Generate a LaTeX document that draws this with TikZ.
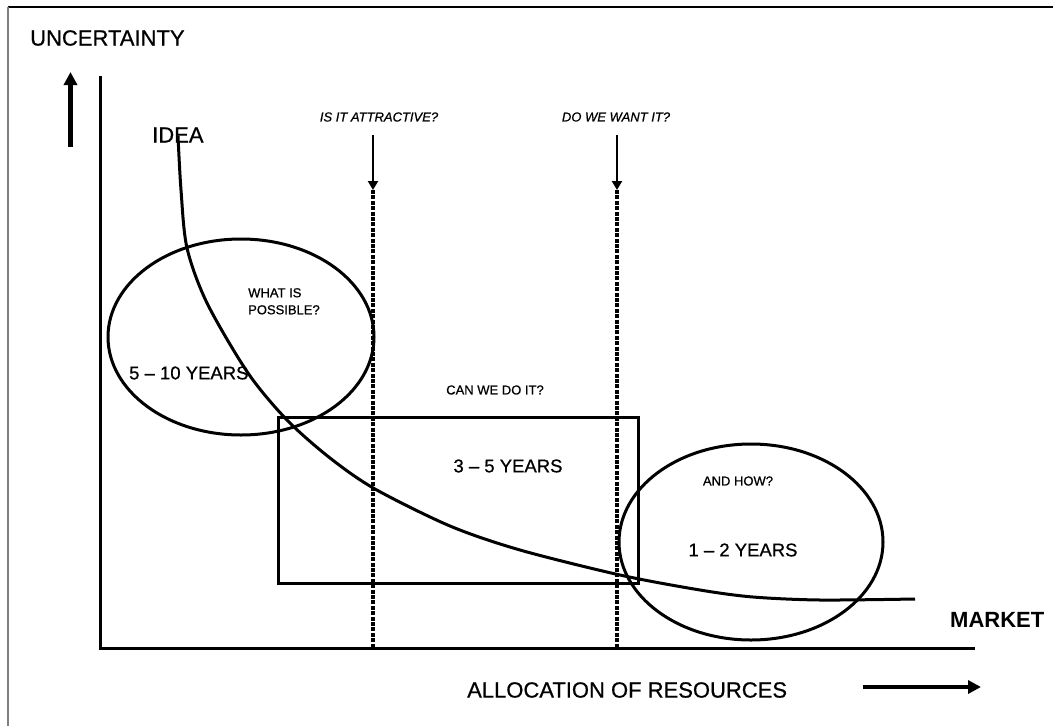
\documentclass[tikz,border=0pt]{standalone}
\usepackage{fontspec}
\setmainfont{Liberation Sans}
\newfontfamily\labelfont{Liberation Sans}[FakeBold=0.7]
\usetikzlibrary{arrows.meta,shapes.geometric}
\begin{document}
\begin{tikzpicture}[x=1pt,y=-1pt,
  axis/.style={line width=3pt},
  outline/.style={line width=3pt},
  bigarrow/.style={line width=4.4pt, -{Triangle[length=13pt,width=13pt]}},
  gatearrow/.style={line width=2.8pt, -{Triangle[length=9pt,width=10pt]}},
  gateline/.style={line width=3.2pt, dash pattern=on 4pt off 1.4pt},
  biglabel/.style={inner sep=0pt, font=\labelfont\fontsize{22}{26}\selectfont},
  midlabel/.style={inner sep=0pt, font=\labelfont\fontsize{18.5}{22}\selectfont},
  smalllabel/.style={inner sep=0pt, font=\labelfont\fontsize{13}{17}\selectfont},
  question/.style={inner sep=0pt, font=\labelfont\fontsize{13}{16}\selectfont\itshape},
]
\useasboundingbox (0,0) rectangle (1053,726);

% page frame (top and left edges)
\coordinate (frameTL) at (8,7);
\coordinate (frameTR) at (1053,7);
\coordinate (frameBL) at (8,726);
\draw[line width=2.4pt] (frameTL) -- (frameTR);
\draw[gray, line width=1.8pt] (frameTL) -- (frameBL);

% axes
\coordinate (ytop) at (100,76);
\coordinate (origin) at (100,648);
\coordinate (xend) at (975,648);
\draw[axis] (ytop) -- (origin) -- (xend);

% direction arrows
\coordinate (upfoot) at (70.5,147);
\coordinate (uptip) at (70.5,72);
\draw[bigarrow] (upfoot) -- (uptip);
\coordinate (rightfoot) at (863,687);
\coordinate (righttip) at (981,687);
\draw[bigarrow] (rightfoot) -- (righttip);

% axis labels
\node[biglabel, anchor=west] (uncertainty) at (30,38) {UNCERTAINTY};
\node[biglabel, anchor=west] (idea) at (152,135) {IDEA};
\node[biglabel, anchor=west, font=\fontsize{22}{26}\selectfont\bfseries] (market) at (950,620) {MARKET};
\node[biglabel, anchor=west] (allocation) at (467,690) {ALLOCATION OF RESOURCES};

% decision gates
\node[question] (attractive) at (379,117) {IS IT ATTRACTIVE?};
\node[question] (wantit) at (616,117) {DO WE WANT IT?};
\coordinate (gateAtop) at (373,135);
\coordinate (gateAmid) at (373,190);
\coordinate (gateAbot) at (373,648);
\coordinate (gateBtop) at (617,135);
\coordinate (gateBmid) at (617,190);
\coordinate (gateBbot) at (617,648);
\draw[gatearrow] (gateAtop) -- (gateAmid);
\draw[gateline] (gateAmid) -- (gateAbot);
\draw[gatearrow] (gateBtop) -- (gateBmid);
\draw[gateline] (gateBmid) -- (gateBbot);

% phases
\node[draw, outline, ellipse, inner sep=0pt, minimum width=266pt, minimum height=196pt] (longterm) at (241,337) {};
\node[draw, outline, rectangle, inner sep=0pt, minimum width=360pt, minimum height=166pt] (midterm) at (458,500) {};
\node[draw, outline, ellipse, inner sep=0pt, minimum width=264pt, minimum height=196pt] (shortterm) at (751,542) {};

% uncertainty curve
\draw[outline] plot[smooth, tension=0.5] coordinates {
  (178,136) (181,190) (187,248) (207,303) (248,373) (287,420) (330,458)
  (375,489) (450,526) (520,550) (620,575) (700,590) (753,597) (820,600)
  (915,599)};

% phase labels
\node[smalllabel, anchor=north west, align=left] (possible) at (248,288) {WHAT IS\\POSSIBLE?};
\node[midlabel, anchor=west] (tenyears) at (129,373) {5 – 10 YEARS};
\node[smalllabel] (candoit) at (495,390) {CAN WE DO IT?};
\node[midlabel] (fiveyears) at (508,466) {3 – 5 YEARS};
\node[smalllabel] (andhow) at (738,481) {AND HOW?};
\node[midlabel] (twoyears) at (743,550) {1 – 2 YEARS};
\end{tikzpicture}
\end{document}
